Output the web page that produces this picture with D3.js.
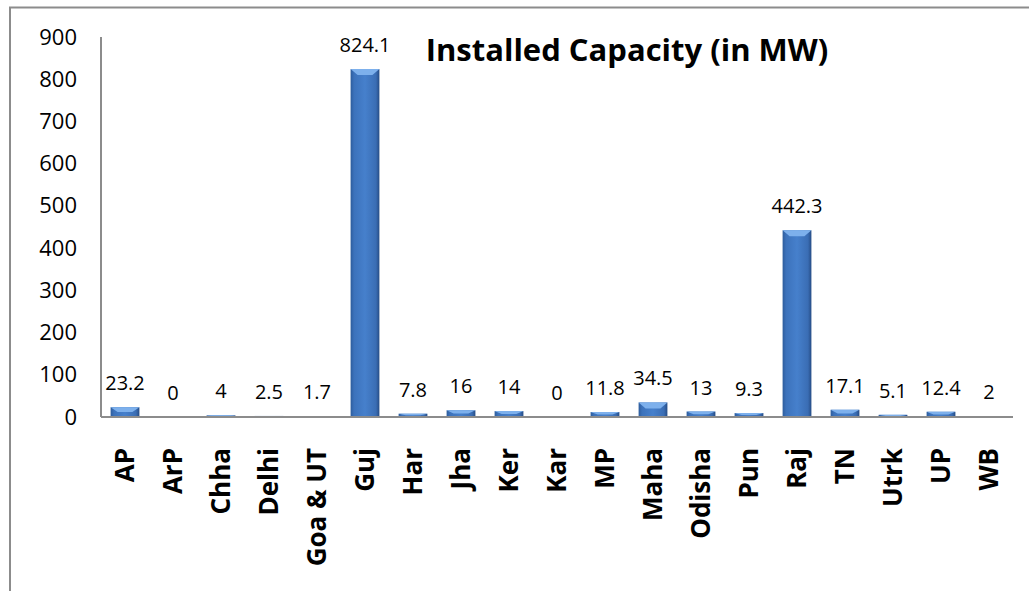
<!DOCTYPE html>
<html>
<head>
<meta charset="utf-8">
<script src="https://cdn.jsdelivr.net/npm/d3@7"></script>
<style>
  body { margin: 0; background: #fff; }
  svg { display: block; font-family: "Open Sans", sans-serif; }
</style>
</head>
<body>
<div id="chart"></div>
<script>
// Data
const states = ["AP", "ArP", "Chha", "Delhi", "Goa & UT", "Guj", "Har", "Jha", "Ker", "Kar",
    "MP", "Maha", "Odisha", "Pun", "Raj", "TN", "Utrk", "UP", "WB"];
const capacityMW = [23.2, 0, 4, 2.5, 1.7, 824.1, 7.8, 16, 14, 0,
    11.8, 34.5, 13, 9.3, 442.3, 17.1, 5.1, 12.4, 2];
const yTicks = [0, 100, 200, 300, 400, 500, 600, 700, 800, 900];
const chartTitle = "Installed Capacity (in MW)";

const W = 1029, H = 591;
const margin = { top: 37, right: 16, bottom: 174, left: 101 };
const width = W - margin.left - margin.right;
const height = H - margin.top - margin.bottom;

const svg = d3.select("#chart").append("svg")
    .attr("width", W)
    .attr("height", H);

// bar gradient (cylinder-ish look)
const defs = svg.append("defs");
const grad = defs.append("linearGradient").attr("id", "barGrad")
    .attr("x1", "0%").attr("x2", "100%").attr("y1", "0%").attr("y2", "0%");
grad.append("stop").attr("offset", "0%").attr("stop-color", "#2d5c9c");
grad.append("stop").attr("offset", "12%").attr("stop-color", "#3c72bb");
grad.append("stop").attr("offset", "50%").attr("stop-color", "#4680cc");
grad.append("stop").attr("offset", "88%").attr("stop-color", "#3a6db4");
grad.append("stop").attr("offset", "100%").attr("stop-color", "#264c85");

// outer chart frame (cropped on right/bottom)
svg.append("path")
    .attr("d", `M10,${H} L10,7.5 L${W},7.5`)
    .attr("fill", "none")
    .attr("stroke", "#8c8c8c")
    .attr("stroke-width", 2);

const g = svg.append("g")
    .attr("transform", `translate(${margin.left},${margin.top})`);

const x = d3.scaleBand()
    .domain(states)
    .range([0, width])
    .paddingInner(0.4)
    .paddingOuter(0.2);

const y = d3.scaleLinear()
    .domain([0, 900])
    .range([height, 0]);

const bars = g.append("g")
    .selectAll("g")
    .data(states.map((s, i) => ({ state: s, value: capacityMW[i] })))
    .enter()
    .append("g")
    .attr("transform", d => `translate(${x(d.state)},0)`);

bars.append("rect")
    .attr("x", 0)
    .attr("y", d => y(d.value))
    .attr("width", x.bandwidth())
    .attr("height", d => height - y(d.value))
    .attr("fill", "url(#barGrad)");

// light bevel at the bar top
bars.filter(d => d.value > 0)
    .append("path")
    .attr("d", d => {
        const bw = x.bandwidth();
        const top = y(d.value);
        const bev = Math.min(6, (height - top) / 2);
        return `M0,${top} L${bw},${top} L${bw - 7},${top + bev} L7,${top + bev} Z`;
    })
    .attr("fill", "#7db0ec");

// value labels
bars.append("text")
    .attr("x", x.bandwidth() / 2)
    .attr("y", d => y(d.value) - 17)
    .attr("text-anchor", "middle")
    .attr("font-size", 20)
    .attr("fill", "#000")
    .text(d => d.value);

// axes lines
g.append("line")
    .attr("x1", 0).attr("x2", 0)
    .attr("y1", 0).attr("y2", height)
    .attr("stroke", "#8c8c8c").attr("stroke-width", 2);

g.append("line")
    .attr("x1", 0).attr("x2", width)
    .attr("y1", height).attr("y2", height)
    .attr("stroke", "#8c8c8c").attr("stroke-width", 2);

// y tick labels
const yAxis = g.append("g")
    .call(d3.axisLeft(y).tickValues(yTicks).tickSize(0).tickPadding(24));
yAxis.select(".domain").remove();
yAxis.selectAll("text")
    .attr("font-size", 22)
    .attr("font-family", "Open Sans, sans-serif")
    .attr("fill", "#000");

// x category labels (rotated, bold)
const xAxis = g.append("g")
    .attr("transform", `translate(0,${height})`)
    .call(d3.axisBottom(x).tickSize(0));
xAxis.select(".domain").remove();
xAxis.selectAll("text")
    .attr("font-size", 26)
    .attr("font-weight", "bold")
    .attr("font-family", "Open Sans, sans-serif")
    .attr("fill", "#000")
    .attr("text-anchor", "end")
    .attr("dy", "0.35em")
    .attr("transform", "translate(0,31) rotate(-90)")
    .attr("x", 0)
    .attr("y", 0);

// title
svg.append("text")
    .attr("x", 627)
    .attr("y", 61)
    .attr("text-anchor", "middle")
    .attr("font-size", 31)
    .attr("font-weight", "bold")
    .attr("fill", "#000")
    .text(chartTitle);
</script>
</body>
</html>
